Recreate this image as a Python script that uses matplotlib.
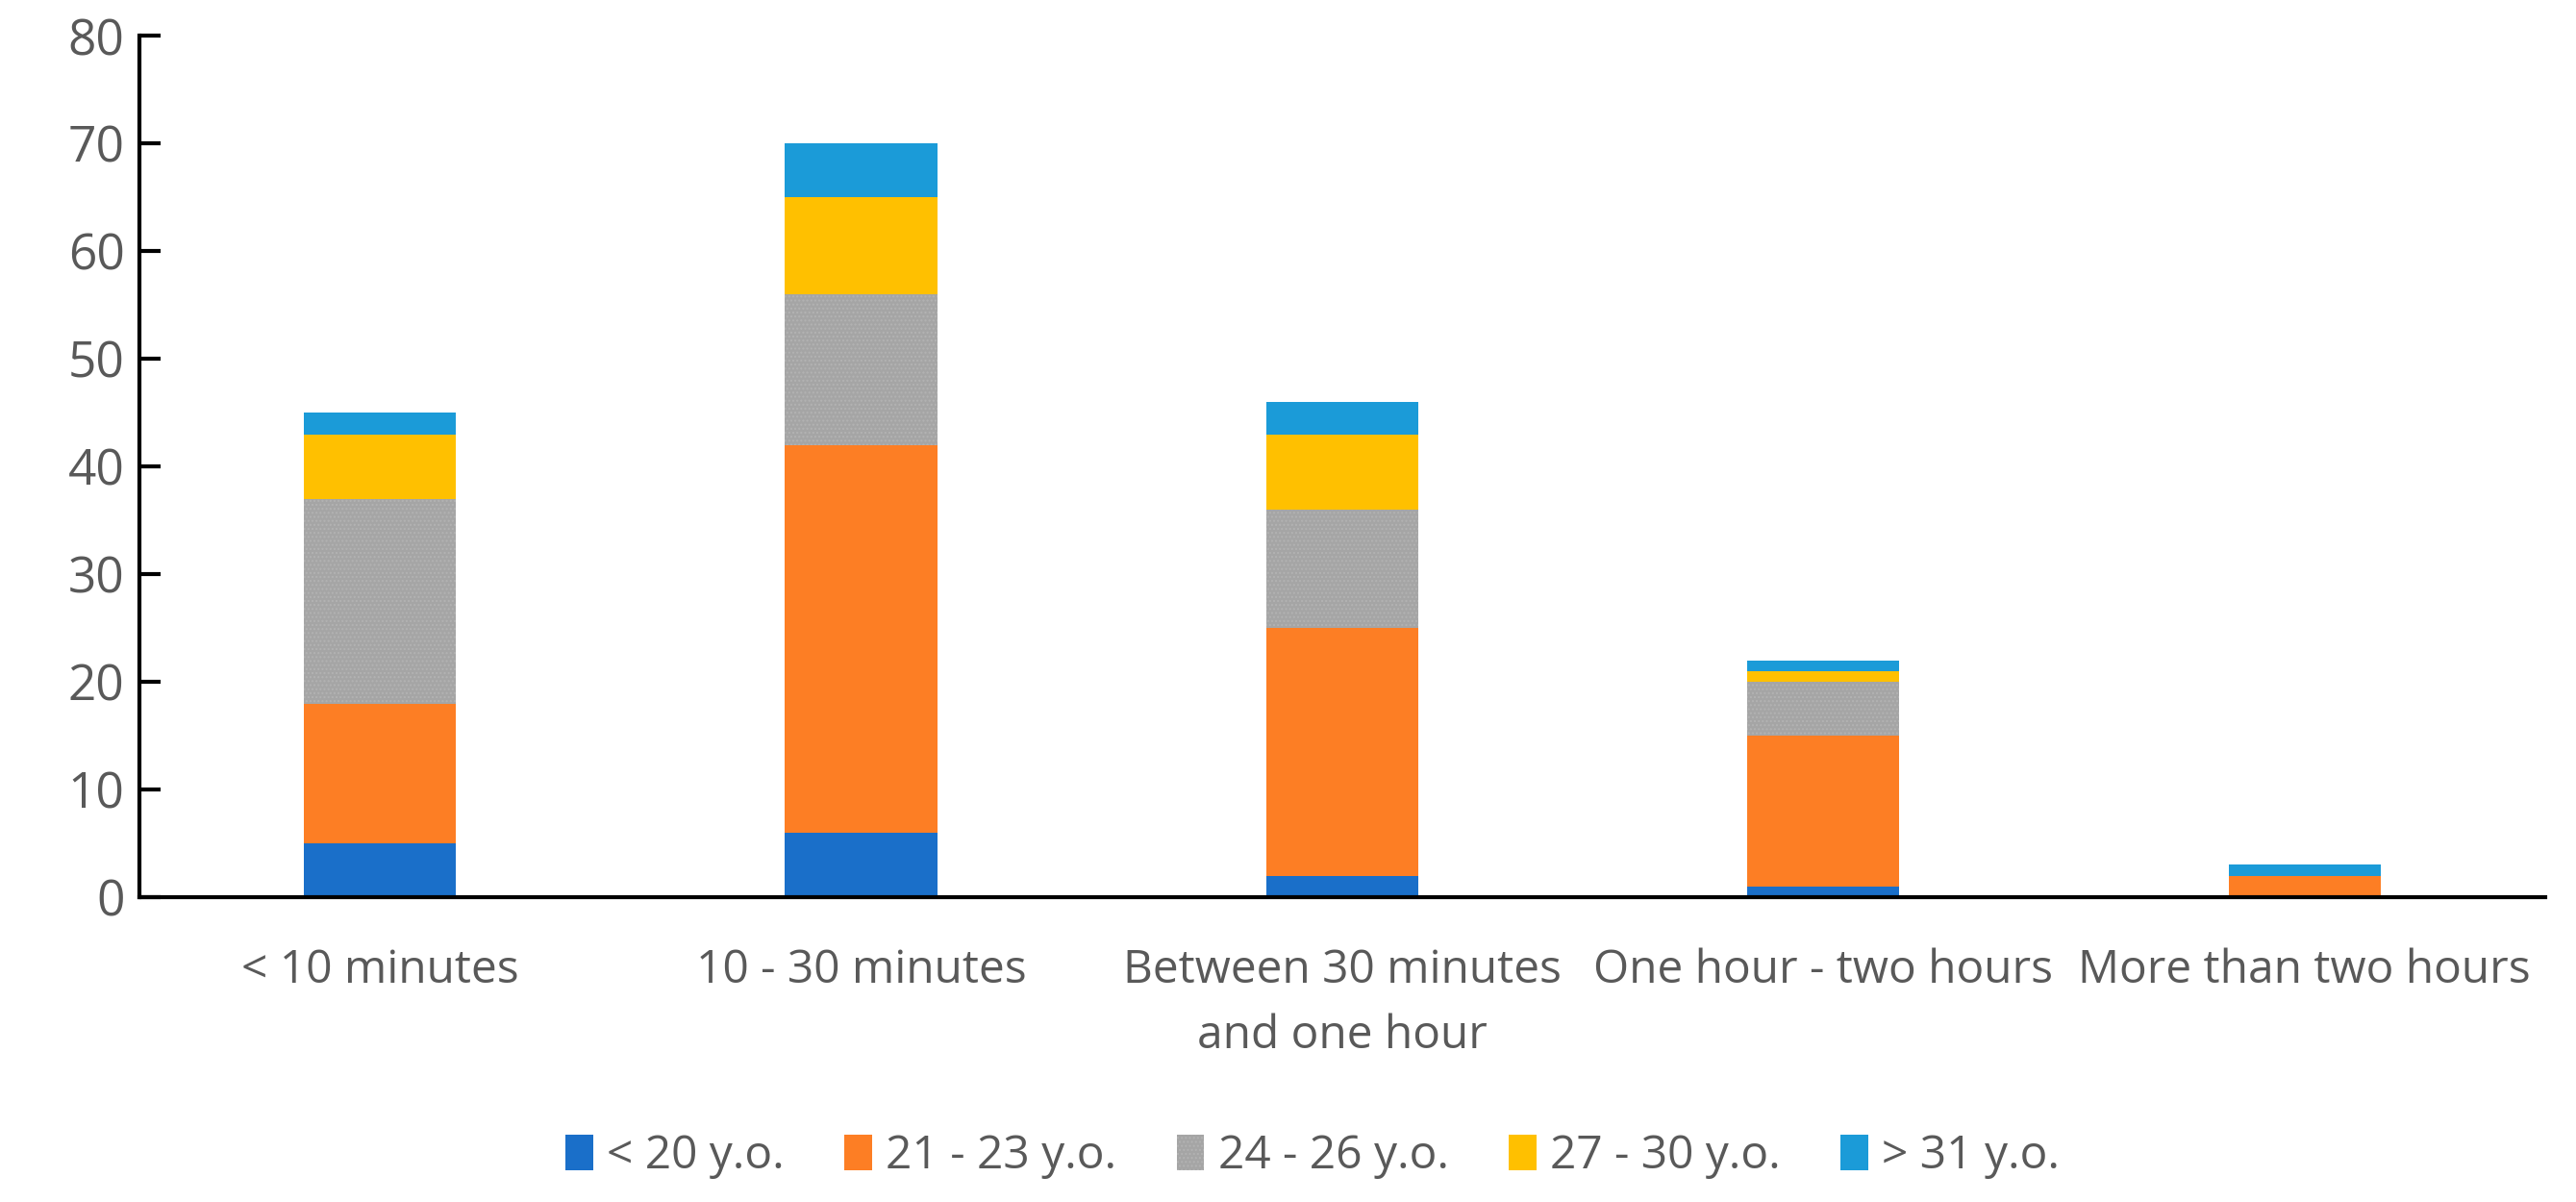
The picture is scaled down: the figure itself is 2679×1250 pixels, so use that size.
import matplotlib
matplotlib.use("Agg")
import matplotlib.pyplot as plt
import numpy as np

categories = ["< 10 minutes", "10 - 30 minutes", "Between 30 minutes\nand one hour",
              "One hour - two hours", "More than two hours"]
series_names = ["< 20 y.o.", "21 - 23 y.o.", "24 - 26 y.o.", "27 - 30 y.o.", "> 31 y.o."]
under_20 = [5, 6, 2, 1, 0]
age_21_23 = [13, 36, 23, 14, 2]
age_24_26 = [19, 14, 11, 5, 0]
age_27_30 = [6, 9, 7, 1, 0]
over_31 = [2, 5, 3, 1, 1]
yticks = [0, 10, 20, 30, 40, 50, 60, 70, 80]

colors = ["#1a6fc9", "#fd7e24", "#a5a5a5", "#ffc000", "#1b9bd8"]
hatches = [None, None, "....", None, None]
hatch_cols = [None, None, "#b3b3b3", None, None]

plt.rcParams["font.family"] = ["Open Sans", "DejaVu Sans"]
plt.rcParams["hatch.linewidth"] = 1.0
txt = "#595959"
fs = 34.5

fig = plt.figure(figsize=(26.79, 12.5), dpi=100)
ax = fig.add_axes([0.0541, 0.2536, 0.988 - 0.0541, 0.970 - 0.2536])

x = np.arange(len(categories))
bottom = np.zeros(len(categories))
for vals, name, c, h, hc in zip([under_20, age_21_23, age_24_26, age_27_30, over_31],
                                series_names, colors, hatches, hatch_cols):
    vals = np.array(vals, dtype=float)
    if h:
        ax.bar(x, vals, width=0.316, bottom=bottom, color=c, edgecolor=hc,
               linewidth=0, hatch=h, label=name)
    else:
        ax.bar(x, vals, width=0.316, bottom=bottom, color=c, linewidth=0, label=name)
    bottom += vals

ax.set_xlim(-0.5, 4.5)
ax.set_ylim(0, 80)
ax.set_yticks(yticks)
ax.set_xticks(x)
ax.set_xticklabels(categories, linespacing=1.55)
for s in ["top", "right"]:
    ax.spines[s].set_visible(False)
for s in ["left", "bottom"]:
    ax.spines[s].set_linewidth(3)
    ax.spines[s].set_color("black")
ax.tick_params(axis="y", direction="in", length=16, width=3, colors="black",
               labelcolor=txt, labelsize=37, pad=11)
ax.tick_params(axis="x", length=0, labelcolor=txt, labelsize=fs, pad=38)

leg = fig.legend(loc="center", bbox_to_anchor=(0.5096, 0.038), ncol=5, frameon=False,
                 fontsize=fs, handlelength=0.6, handleheight=0.8, handletextpad=0.3,
                 columnspacing=1.3, labelcolor=txt)

fig.savefig("out.png", dpi=100)
